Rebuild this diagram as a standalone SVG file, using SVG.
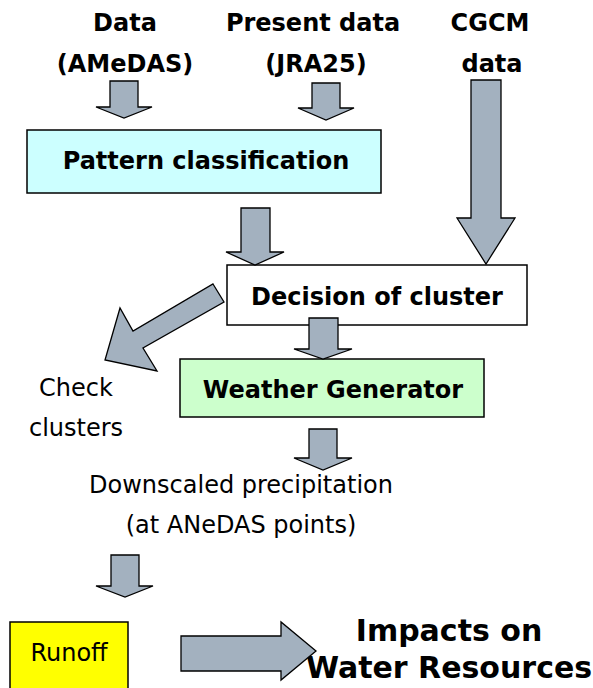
<svg xmlns="http://www.w3.org/2000/svg" width="593" height="688" viewBox="0 0 593 688">
<style>
.b{font-family:"DejaVu Sans","Liberation Sans",sans-serif;font-weight:bold;fill:#000;text-anchor:middle;font-size:24px}
.r{font-family:"DejaVu Sans","Liberation Sans",sans-serif;fill:#000;text-anchor:middle;font-size:24px}
.big{font-size:30px}
.box{stroke:#000;stroke-width:1.5}
.arr{fill:#a3b1bf;stroke:#000;stroke-width:1.3;stroke-linejoin:miter}
</style>
<rect width="593" height="688" fill="#fff"/>
<g id="src-amedas">
<text class="b" x="125" y="31">Data</text>
<text class="b" x="125" y="72">(AMeDAS)</text>
</g>
<g id="src-jra25">
<text class="b" x="313" y="31">Present data</text>
<text class="b" x="316" y="72">(JRA25)</text>
</g>
<g id="src-cgcm">
<text class="b" x="490" y="31">CGCM</text>
<text class="b" x="492" y="72">data</text>
</g>
<g id="pattern">
<rect class="box" x="27" y="130" width="354" height="63" fill="#ccffff"/>
<text class="b" x="206" y="169">Pattern classification</text>
</g>
<g id="decision">
<rect class="box" x="227" y="265" width="300" height="60" fill="#fff"/>
<text class="b" x="377" y="305">Decision of cluster</text>
</g>
<g id="weather">
<rect class="box" x="180" y="359" width="304" height="58" fill="#ccffcc"/>
<text class="b" x="333" y="398">Weather Generator</text>
</g>
<g id="check">
<text class="r" x="76" y="396">Check</text>
<text class="r" x="76" y="436">clusters</text>
</g>
<g id="downscaled">
<text class="r" x="241" y="493">Downscaled precipitation</text>
<text class="r" x="241" y="533">(at ANeDAS points)</text>
</g>
<g id="runoff">
<rect class="box" x="10" y="622" width="118" height="70" fill="#ffff00"/>
<text class="r" x="69" y="661">Runoff</text>
</g>
<g id="impacts">
<text class="b big" x="449" y="641">Impacts on</text>
<text class="b big" x="449" y="678">Water Resources</text>
</g>
<g id="connectors">
<polygon class="arr" points="110,81 138,81 138,107 152,107 124,118 96,107 110,107"/>
<polygon class="arr" points="312,83 340,83 340,108 354,108 326,120 298,108 312,108"/>
<polygon class="arr" points="471,80 501,80 501,218 515,218 486,264 457,218 471,218"/>
<polygon class="arr" points="241,208 270,208 270,252 284,252 255,265 226,252 241,252"/>
<polygon class="arr" points="309,318 338,318 338,349 352,349 323,359 294,349 309,349"/>
<polygon class="arr" points="309,429 337,429 337,458 352,458 323,470 294,458 309,458"/>
<polygon class="arr" points="111,555 139,555 139,586 153,586 125,597 96,586 111,586"/>
<polygon class="arr" points="181,636 281,636 281,622 316,651 281,680 281,671 181,671"/>
<polygon class="arr" points="213,284 224,302 143,348 157,371 105,360 120,308 133,331"/>
</g>
</svg>
